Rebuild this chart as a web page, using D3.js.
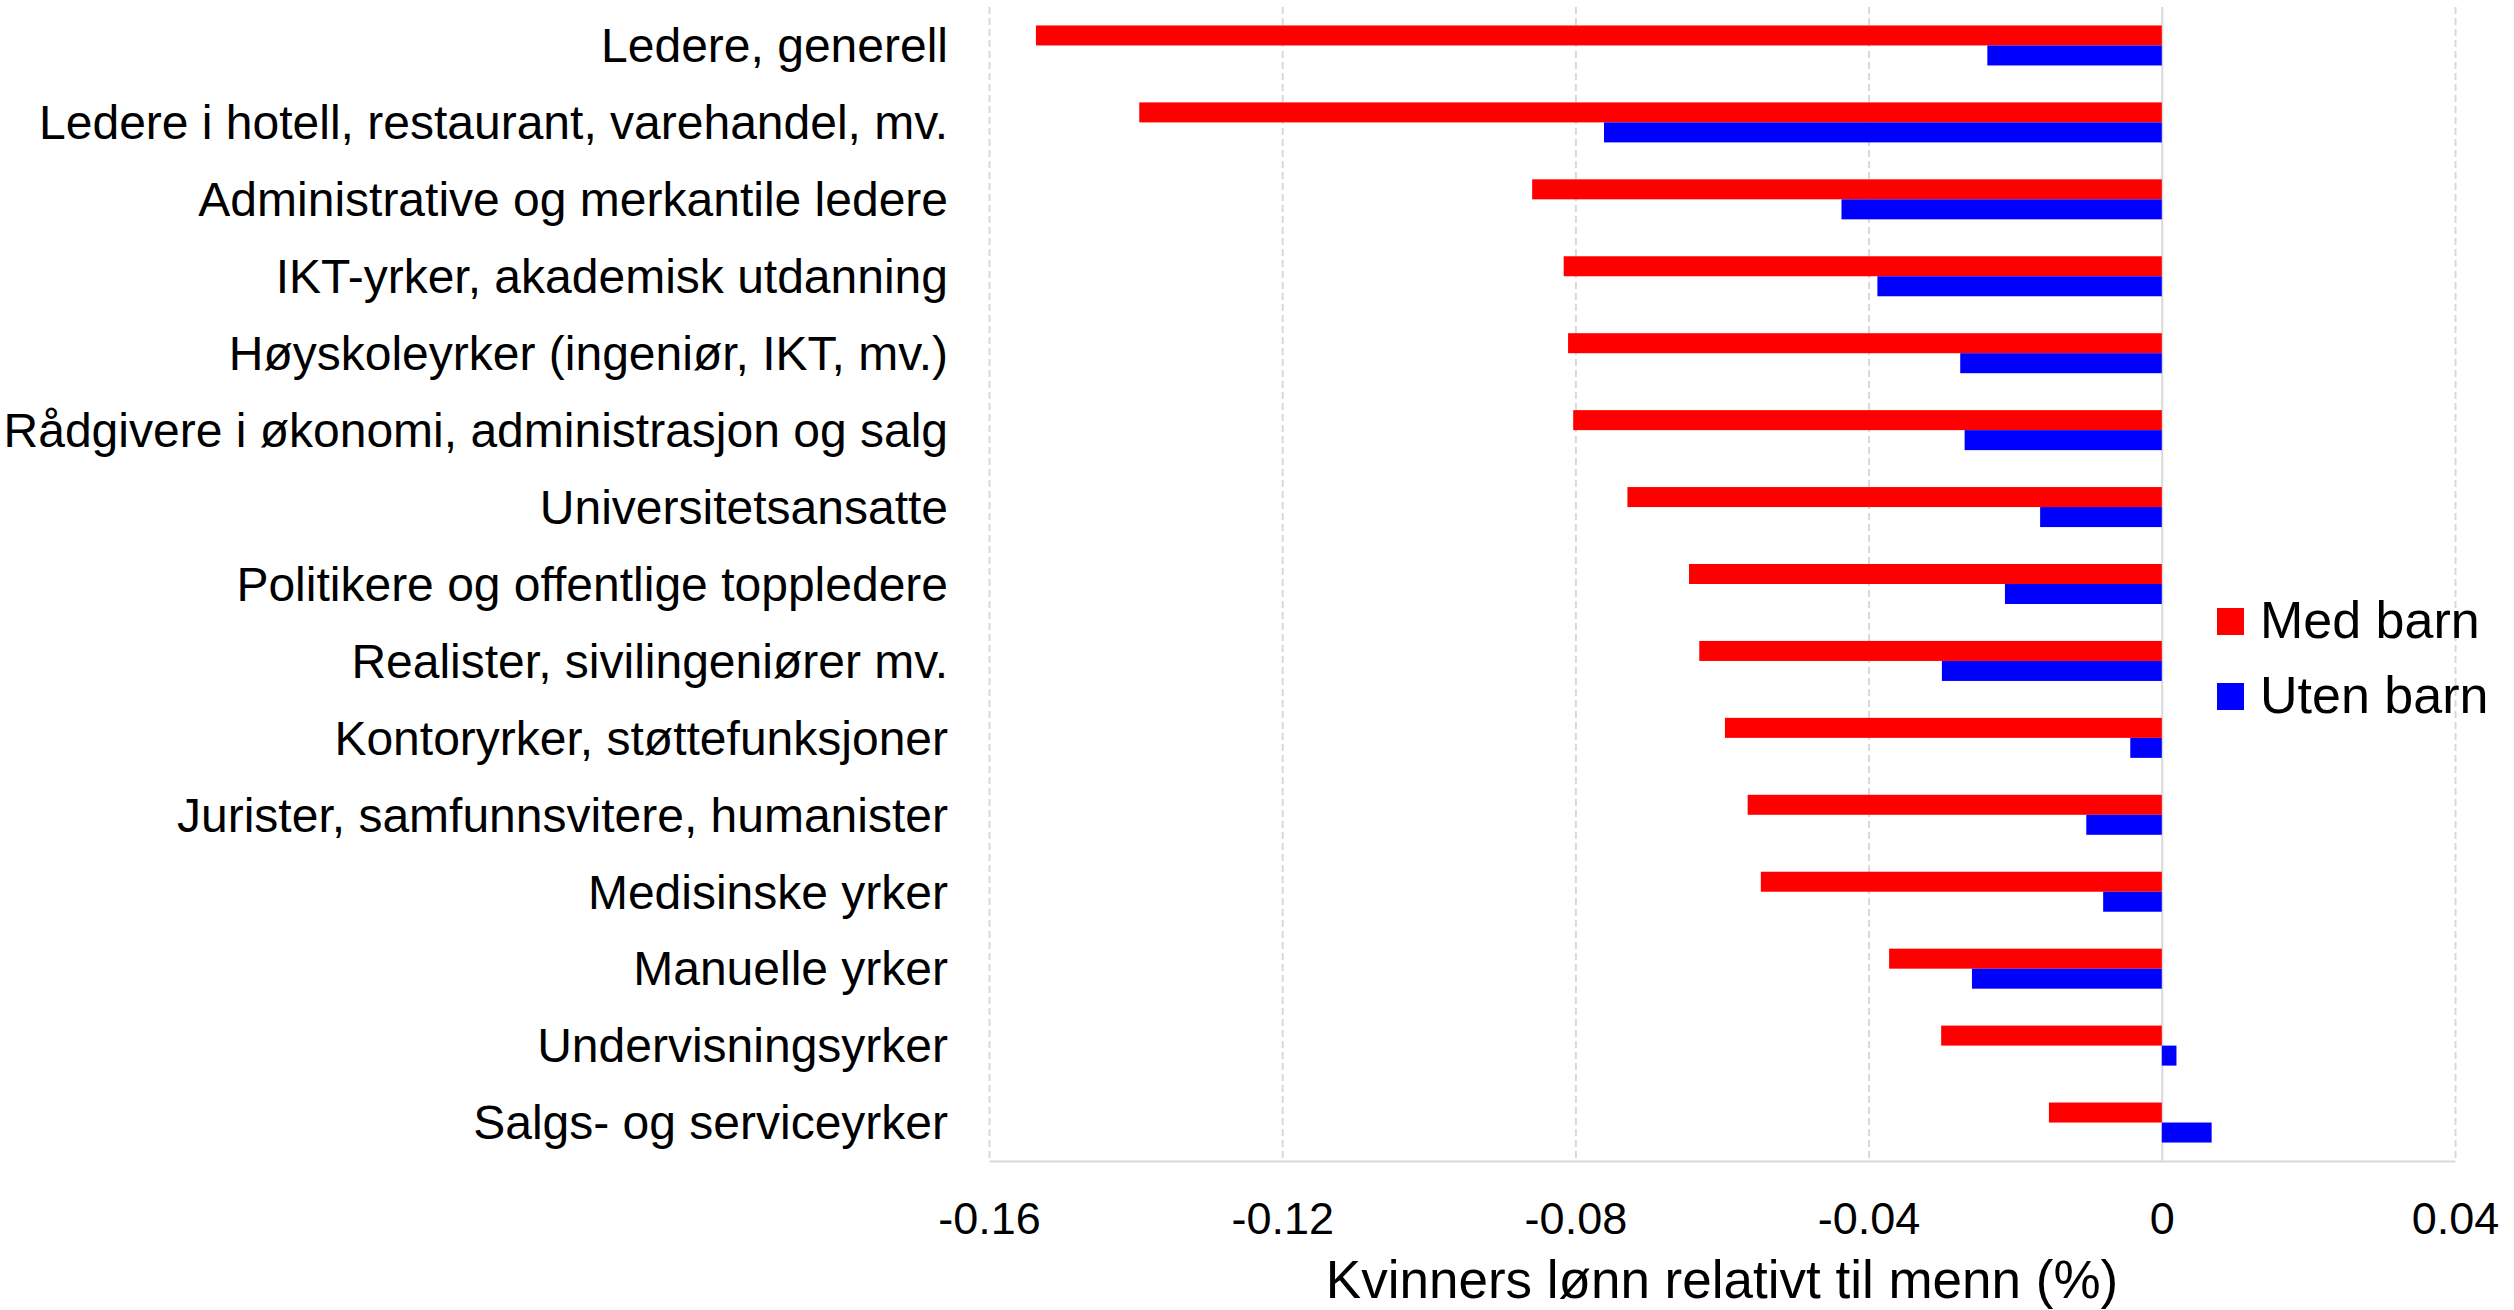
<!DOCTYPE html>
<html>
<head>
<meta charset="utf-8">
<script src="https://cdn.jsdelivr.net/npm/d3@7"></script>
<style>
  body { margin: 0; background: #fff; }
  svg { display: block; font-family: "Liberation Sans", Arial, sans-serif; }
</style>
</head>
<body>
<script>
// Chart data
const categories = [
    "Ledere, generell",
    "Ledere i hotell, restaurant, varehandel, mv.",
    "Administrative og merkantile ledere",
    "IKT-yrker, akademisk utdanning",
    "Høyskoleyrker (ingeniør, IKT, mv.)",
    "Rådgivere i økonomi, administrasjon og salg",
    "Universitetsansatte",
    "Politikere og offentlige toppledere",
    "Realister, sivilingeniører mv.",
    "Kontoryrker, støttefunksjoner",
    "Jurister, samfunnsvitere, humanister",
    "Medisinske yrker",
    "Manuelle yrker",
    "Undervisningsyrker",
    "Salgs- og serviceyrker"
];
const seriesNames = ["Med barn", "Uten barn"];
const medBarn = [-0.1536, -0.1395, -0.0859, -0.0816, -0.0810, -0.0803, -0.0729, -0.0645,
                 -0.0631, -0.0596, -0.0565, -0.0547, -0.0372, -0.0301, -0.0154];
const utenBarn = [-0.0238, -0.0761, -0.0437, -0.0388, -0.0275, -0.0269, -0.0166, -0.0214,
                  -0.0300, -0.0043, -0.0103, -0.0080, -0.0259, 0.0020, 0.0068];
const xTicks = [-0.16, -0.12, -0.08, -0.04, 0, 0.04];
const xTitle = "Kvinners lønn relativt til menn (%)";

const svgWidth = 2514;
const svgHeight = 1310;
const margin = { top: 7, right: 59, bottom: 149, left: 989 };
const width = svgWidth - margin.left - margin.right;
const height = svgHeight - margin.top - margin.bottom;

const colors = d3.scaleOrdinal().domain(seriesNames).range(["#ff0000", "#0000ff"]);

const rows = categories.map((c, i) => ({
    category: c,
    values: [
        { series: seriesNames[0], value: medBarn[i] },
        { series: seriesNames[1], value: utenBarn[i] }
    ]
}));

const svg = d3.select('body')
    .append('svg')
    .attr('width', svgWidth)
    .attr('height', svgHeight);

const g = svg.append('g')
    .attr('transform', `translate(${margin.left},${margin.top})`);

const xScale = d3.scaleLinear()
    .domain([-0.16, 0.04])
    .range([0, width]);

const yScale = d3.scaleBand()
    .domain(categories)
    .range([0, height])
    .paddingInner(0.48)
    .paddingOuter(0.24);

const ySub = d3.scaleBand()
    .domain(seriesNames)
    .range([0, yScale.bandwidth()]);

const fmt = d => d === 0 ? "0" : d.toFixed(2);

// Gridlines (dashed), zero line solid
const grid = g.append('g')
    .call(d3.axisBottom(xScale).tickValues(xTicks).tickSize(height).tickFormat(''));
grid.select('.domain').remove();
grid.selectAll('.tick line')
    .attr('stroke', '#d9d9d9')
    .attr('stroke-width', 2)
    .attr('stroke-dasharray', d => d === 0 ? null : '7,4');

// Bars
g.selectAll('.row')
    .data(rows)
    .enter()
    .append('g')
    .attr('class', 'row')
    .attr('transform', d => `translate(0,${yScale(d.category)})`)
    .selectAll('rect')
    .data(d => d.values)
    .enter()
    .append('rect')
    .attr('x', d => xScale(Math.min(0, d.value)))
    .attr('y', d => ySub(d.series))
    .attr('width', d => Math.abs(xScale(d.value) - xScale(0)))
    .attr('height', ySub.bandwidth())
    .attr('fill', d => colors(d.series));

// X-axis
const xAxis = g.append('g')
    .attr('transform', `translate(0,${height})`)
    .call(d3.axisBottom(xScale).tickValues(xTicks).tickSize(0).tickPadding(41).tickFormat(fmt));
xAxis.select('.domain').attr('stroke', '#d9d9d9').attr('stroke-width', 2);
xAxis.selectAll('text')
    .attr('fill', '#000')
    .style('font-size', '45px');

xAxis.append('text')
    .attr('x', width / 2)
    .attr('y', 137)
    .attr('fill', '#000')
    .style('text-anchor', 'middle')
    .style('font-size', '53px')
    .text(xTitle);

// Y-axis (category labels)
const yAxis = g.append('g')
    .call(d3.axisLeft(yScale).tickSize(0).tickPadding(41));
yAxis.select('.domain').remove();
yAxis.selectAll('text')
    .attr('fill', '#000')
    .attr('dy', '0.35em')
    .style('font-size', '48px');

// Legend
const legend = svg.append('g')
    .attr('transform', 'translate(2217,608)');
const item = legend.selectAll('.item')
    .data(seriesNames)
    .enter()
    .append('g')
    .attr('transform', (d, i) => `translate(0,${i * 75})`);
item.append('rect')
    .attr('width', 27)
    .attr('height', 27)
    .attr('fill', d => colors(d));
item.append('text')
    .attr('x', 43)
    .attr('y', 30)
    .style('font-size', '52px')
    .text(d => d);
</script>
</body>
</html>
